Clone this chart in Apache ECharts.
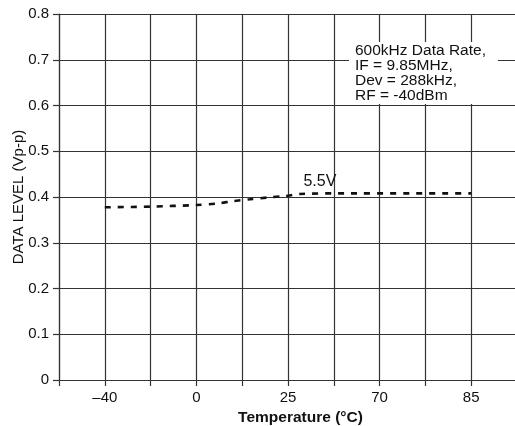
<!DOCTYPE html>
<html>
<head>
<meta charset="utf-8">
<script src="https://cdn.jsdelivr.net/npm/echarts@6/dist/echarts.min.js"></script>
<style>
html,body{margin:0;padding:0;background:#fff;}
#chart{width:515px;height:426px;}
</style>
</head>
<body>
<div id="chart"></div>
<script>
// x positions are evenly spaced slots; labels shown at odd slots
var xTickLabels = ['', '\u201340', '', '0', '', '25', '', '70', '', '85', ''];
var yTicks = [0, 0.1, 0.2, 0.3, 0.4, 0.5, 0.6, 0.7, 0.8];
var curveX = [1.0, 2.0, 3.0, 3.47, 3.8, 4.17, 4.56, 4.93, 5.26, 6.07, 9.0];
var curveY = [0.3775, 0.379, 0.3825, 0.386, 0.391, 0.395, 0.399, 0.402, 0.4065, 0.408, 0.408];
var curveName = '5.5V';
var noteLines = ['600kHz Data Rate,', 'IF = 9.85MHz,', 'Dev = 288kHz,', 'RF = -40dBm'];

var FONT = 'Liberation Sans, Arial, Helvetica, sans-serif';
var chart = echarts.init(document.getElementById('chart'));

var data = curveX.map(function (x, i) {
  var p = { value: [x, curveY[i]] };
  if (i === 8) {
    p.label = { show: true, formatter: curveName, position: 'top', offset: [20, 1],
      color: '#111', fontSize: 16, fontFamily: FONT };
  }
  return p;
});

chart.setOption({
  animation: false,
  backgroundColor: '#fff',
  grid: { left: 59, top: 14, width: 458, height: 366, containLabel: false, outerBoundsMode: 'none' },
  xAxis: {
    type: 'value', min: 0, max: 10, interval: 1,
    name: 'Temperature (\u00B0C)', nameLocation: 'middle', nameGap: 30, nameMoveOverlap: false,
    nameTextStyle: { fontFamily: FONT, fontSize: 15.5, fontWeight: 'bold', color: '#111', padding: [0, 0, 0, 25] },
    axisLine: { show: true, lineStyle: { color: '#333', width: 1.2 } },
    axisTick: { show: true, length: 6, inside: false, lineStyle: { color: '#333', width: 1.2 } },
    axisLabel: { margin: 10, fontFamily: FONT, fontSize: 15, color: '#111',
      formatter: function (v) { return xTickLabels[Math.round(v)] || ''; } },
    splitLine: { show: true, lineStyle: { color: '#333', width: 1.2 } }
  },
  yAxis: {
    type: 'value', min: 0, max: 0.8, interval: 0.1,
    name: 'DATA LEVEL (Vp-p)', nameLocation: 'middle', nameGap: 33, nameMoveOverlap: false,
    nameTextStyle: { fontFamily: FONT, fontSize: 15, color: '#111' },
    axisLine: { show: true, lineStyle: { color: '#333', width: 1.2 } },
    axisTick: { show: true, length: 6, lineStyle: { color: '#333', width: 1.2 } },
    axisLabel: { margin: 10, fontFamily: FONT, fontSize: 15, color: '#111',
      formatter: function (v) {
        var t = yTicks.filter(function (k) { return Math.abs(k - v) < 1e-6; })[0];
        return t === 0 ? '0' : t.toFixed(1);
      } },
    splitLine: { show: true, lineStyle: { color: '#333', width: 1.2 } }
  },
  graphic: [{
    type: 'text', left: 349, top: 42, z: 100,
    style: {
      text: noteLines.join('\n'),
      font: '15.5px ' + FONT, fill: '#111', lineHeight: 15,
      backgroundColor: '#fff', padding: [1, 12, 1, 6]
    }
  }],
  series: [{
    type: 'line', name: curveName, data: data, showSymbol: true, symbol: 'circle', symbolSize: 0,
    smooth: 0.3,
    lineStyle: { color: '#111', width: 2.6, type: [6, 7] }
  }]
});
</script>
</body>
</html>
